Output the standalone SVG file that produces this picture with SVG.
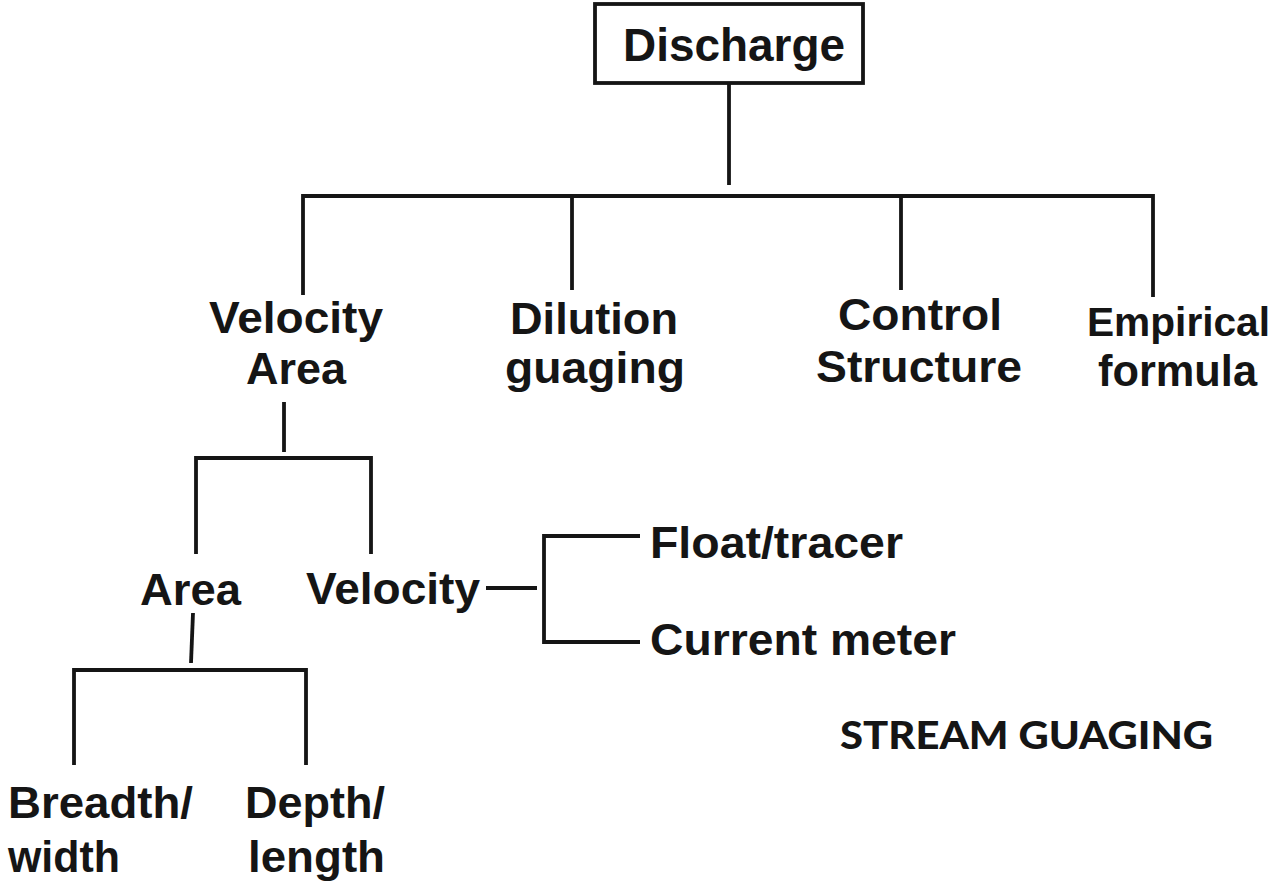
<svg xmlns="http://www.w3.org/2000/svg" width="1280" height="892" viewBox="0 0 1280 892">
<style>
.t{font-family:"Liberation Sans",Arial,sans-serif;font-weight:bold;font-size:45px;fill:#151515}
.s{font-family:Lato,"Liberation Sans",sans-serif;font-weight:900;font-size:37px;fill:#151515}
.c{fill:none;stroke:#151515;stroke-width:3.8;stroke-linecap:butt;stroke-linejoin:miter}
</style>
<rect width="1280" height="892" fill="#ffffff"/>
<g id="connectors">
<path class="c" d="M729 83V185"/>
<path class="c" d="M303 295V196H1153V297"/>
<path class="c" d="M572 196V290"/>
<path class="c" d="M901 196V290"/>
<path class="c" d="M284 402V452"/>
<path class="c" d="M196 554V458H371V554"/>
<path class="c" d="M193 613L191 663"/>
<path class="c" d="M74 765V670H306V765"/>
<path class="c" d="M486 588H537"/>
<path class="c" d="M640 536H544V642H640"/>
</g>
<g id="discharge">
<rect x="595" y="4" width="268" height="79" fill="#fff" stroke="#151515" stroke-width="3.8"/>
<text class="t" x="623" y="61" style="font-size:46px" textLength="222" lengthAdjust="spacingAndGlyphs">Discharge</text>
</g>
<g id="velocity-area">
<text class="t" x="209" y="333" textLength="174" lengthAdjust="spacingAndGlyphs">Velocity</text>
<text class="t" x="246" y="384" textLength="100" lengthAdjust="spacingAndGlyphs">Area</text>
</g>
<g id="dilution-guaging">
<text class="t" x="510" y="334" textLength="168" lengthAdjust="spacingAndGlyphs">Dilution</text>
<text class="t" x="505" y="383" textLength="180" lengthAdjust="spacingAndGlyphs">guaging</text>
</g>
<g id="control-structure">
<text class="t" x="838" y="330" textLength="164" lengthAdjust="spacingAndGlyphs">Control</text>
<text class="t" x="816" y="382" textLength="206" lengthAdjust="spacingAndGlyphs">Structure</text>
</g>
<g id="empirical-formula">
<text class="t" x="1087" y="336" style="font-size:40px" textLength="183" lengthAdjust="spacingAndGlyphs">Empirical</text>
<text class="t" x="1098" y="386" textLength="159" lengthAdjust="spacingAndGlyphs">formula</text>
</g>
<g id="area">
<text class="t" x="140" y="605" textLength="101" lengthAdjust="spacingAndGlyphs">Area</text>
</g>
<g id="velocity">
<text class="t" x="306" y="604" textLength="174" lengthAdjust="spacingAndGlyphs">Velocity</text>
</g>
<g id="float-tracer">
<text class="t" x="650" y="558" textLength="253" lengthAdjust="spacingAndGlyphs">Float/tracer</text>
</g>
<g id="current-meter">
<text class="t" x="650" y="655" textLength="306" lengthAdjust="spacingAndGlyphs">Current meter</text>
</g>
<g id="breadth-width">
<text class="t" x="8" y="818" textLength="185" lengthAdjust="spacingAndGlyphs">Breadth/</text>
<text class="t" x="8" y="872" textLength="112" lengthAdjust="spacingAndGlyphs">width</text>
</g>
<g id="depth-length">
<text class="t" x="245" y="818" textLength="140" lengthAdjust="spacingAndGlyphs">Depth/</text>
<text class="t" x="248" y="872" textLength="137" lengthAdjust="spacingAndGlyphs">length</text>
</g>
<g id="title">
<text class="s" x="840" y="749" textLength="373" lengthAdjust="spacingAndGlyphs">STREAM GUAGING</text>
</g>
</svg>
